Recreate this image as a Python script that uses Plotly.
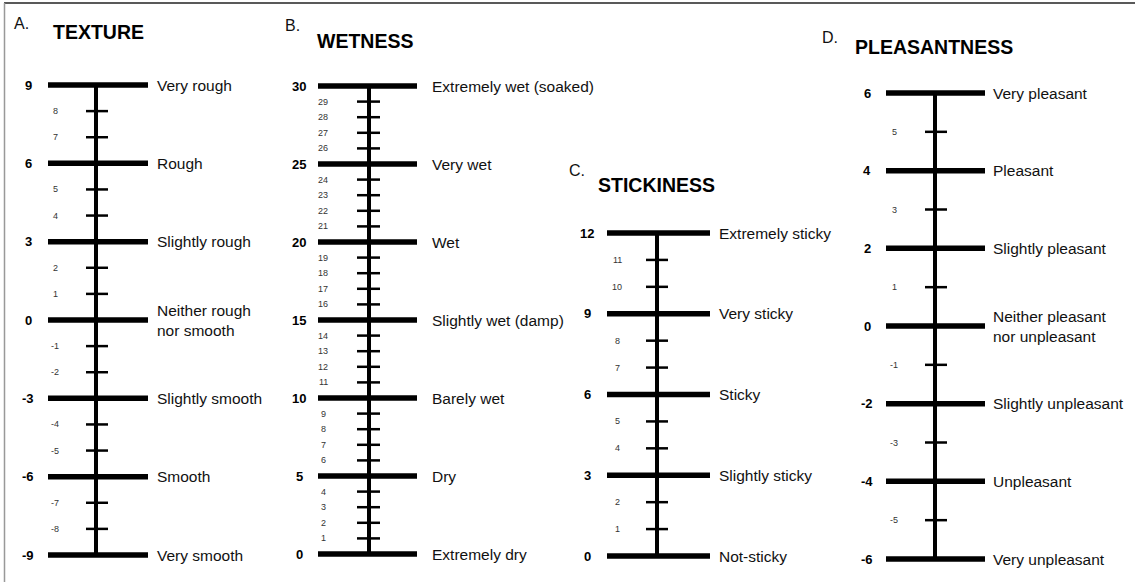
import plotly.graph_objects as go

# ---------------- data ----------------
texture_major = [9, 6, 3, 0, -3, -6, -9]
texture_labels = ["Very rough", "Rough", "Slightly rough", "Neither rough<br>nor smooth",
                  "Slightly smooth", "Smooth", "Very smooth"]
texture_minor = [8, 7, 5, 4, 2, 1, -1, -2, -4, -5, -7, -8]

wetness_major = [30, 25, 20, 15, 10, 5, 0]
wetness_labels = ["Extremely wet (soaked)", "Very wet", "Wet", "Slightly wet (damp)",
                  "Barely wet", "Dry", "Extremely dry"]
wetness_minor = [29, 28, 27, 26, 24, 23, 22, 21, 19, 18, 17, 16, 14, 13, 12, 11,
                 9, 8, 7, 6, 4, 3, 2, 1]

stick_major = [12, 9, 6, 3, 0]
stick_labels = ["Extremely sticky", "Very sticky", "Sticky", "Slightly sticky", "Not-sticky"]
stick_minor = [11, 10, 8, 7, 5, 4, 2, 1]

pleas_major = [6, 4, 2, 0, -2, -4, -6]
pleas_labels = ["Very pleasant", "Pleasant", "Slightly pleasant",
                "Neither pleasant<br>nor unpleasant", "Slightly unpleasant",
                "Unpleasant", "Very unpleasant"]
pleas_minor = [5, 3, 1, -1, -3, -5]

panel_letters = ["A.", "B.", "C.", "D."]
panel_titles = ["TEXTURE", "WETNESS", "STICKINESS", "PLEASANTNESS"]

# ---------------- layout geometry (pixels) ----------------
W, H = 1135, 582
FONT = "Liberation Sans, Arial, sans-serif"

panels = [
    dict(major=texture_major, labels=texture_labels, minor=texture_minor,
         cx=96, ptop=85, pbot=555, maj=(-48, 52), mn=(-10, 12), mnlab=-41, mjlab=-68, txt=59,
         letter=(21, 24), title=(51, 32)),
    dict(major=wetness_major, labels=wetness_labels, minor=wetness_minor,
         cx=369, ptop=86, pbot=554, maj=(-51, 48), mn=(-12, 11), mnlab=-46, mjlab=-70, txt=61,
         letter=(292, 26), title=(315, 41)),
    dict(major=stick_major, labels=stick_labels, minor=stick_minor,
         cx=657, ptop=233, pbot=556, maj=(-50, 53), mn=(-11, 11), mnlab=-40, mjlab=-70, txt=60,
         letter=(577, 170), title=(596, 185)),
    dict(major=pleas_major, labels=pleas_labels, minor=pleas_minor,
         cx=935, ptop=93, pbot=559, maj=(-49, 50), mn=(-10, 12), mnlab=-41, mjlab=-68, txt=56,
         letter=(830, 37), title=(853, 47)),
]

fig = go.Figure()
annotations = []

for i, p in enumerate(panels):
    k = "" if i == 0 else str(i + 1)
    xa, ya = "x" + k, "y" + k
    vtop, vbot = max(p["major"]), min(p["major"])
    upp = (vtop - vbot) / (p["pbot"] - p["ptop"])
    yrange = [vbot - (H - p["pbot"]) * upp, vtop + p["ptop"] * upp]
    xrange = [-p["cx"], W - p["cx"]]
    ax_common = dict(visible=False, showgrid=False, zeroline=False, fixedrange=True, domain=[0, 1])
    fig.layout["xaxis" + k] = dict(range=xrange, anchor=ya, **ax_common)
    fig.layout["yaxis" + k] = dict(range=yrange, anchor=xa, **ax_common)

    # vertical spine
    fig.add_trace(go.Scatter(x=[0, 0], y=[vbot, vtop], mode="lines",
                             line=dict(color="black", width=4), xaxis=xa, yaxis=ya,
                             hoverinfo="skip", showlegend=False))
    # minor ticks
    mx, my = [], []
    for v in p["minor"]:
        mx += [p["mn"][0], p["mn"][1], None]
        my += [v, v, None]
    fig.add_trace(go.Scatter(x=mx, y=my, mode="lines", line=dict(color="black", width=2.5),
                             xaxis=xa, yaxis=ya, hoverinfo="skip", showlegend=False))
    # major lines
    Mx, My = [], []
    for v in p["major"]:
        Mx += [p["maj"][0], p["maj"][1], None]
        My += [v, v, None]
    fig.add_trace(go.Scatter(x=Mx, y=My, mode="lines", line=dict(color="black", width=5.5),
                             xaxis=xa, yaxis=ya, hoverinfo="skip", showlegend=False))

    for v, lab in zip(p["major"], p["labels"]):
        annotations.append(dict(x=p["mjlab"], y=v, xref=xa, yref=ya, text="<b>%d</b>" % v,
                                showarrow=False, xanchor="center", yanchor="middle",
                                font=dict(family=FONT, size=13, color="black")))
        annotations.append(dict(x=p["txt"], y=v, xref=xa, yref=ya, text=lab, align="left",
                                showarrow=False, xanchor="left", yanchor="middle",
                                font=dict(family=FONT, size=15.5, color="#111")))
    for v in p["minor"]:
        annotations.append(dict(x=p["mnlab"], y=v, xref=xa, yref=ya, text=str(v),
                                showarrow=False, xanchor="center", yanchor="middle",
                                font=dict(family=FONT, size=9, color="#333")))

    lx, ly = p["letter"]
    annotations.append(dict(x=lx / W, y=1 - ly / H, xref="paper", yref="paper",
                            text=panel_letters[i], showarrow=False, xanchor="center",
                            yanchor="middle", font=dict(family=FONT, size=16, color="#111")))
    tx, ty = p["title"]
    annotations.append(dict(x=tx / W, y=1 - ty / H, xref="paper", yref="paper",
                            text="<b>%s</b>" % panel_titles[i], showarrow=False, xanchor="left",
                            yanchor="middle", font=dict(family=FONT, size=19.5, color="black")))

shapes = [
    dict(type="line", xref="paper", yref="paper", x0=4 / W, x1=1, y0=1 - 3 / H, y1=1 - 3 / H,
         line=dict(color="#222", width=1.5)),
    dict(type="line", xref="paper", yref="paper", x0=4.5 / W, x1=4.5 / W, y0=0, y1=1 - 3 / H,
         line=dict(color="#999", width=1.5)),
]

fig.update_layout(width=W, height=H, margin=dict(l=0, r=0, t=0, b=0),
                  paper_bgcolor="white", plot_bgcolor="rgba(0,0,0,0)",
                  annotations=annotations, shapes=shapes, showlegend=False)

fig.write_html("out.html", config={"displayModeBar": False, "staticPlot": True},
               post_script="document.body.style.margin='0px';document.body.style.overflow='hidden';")
